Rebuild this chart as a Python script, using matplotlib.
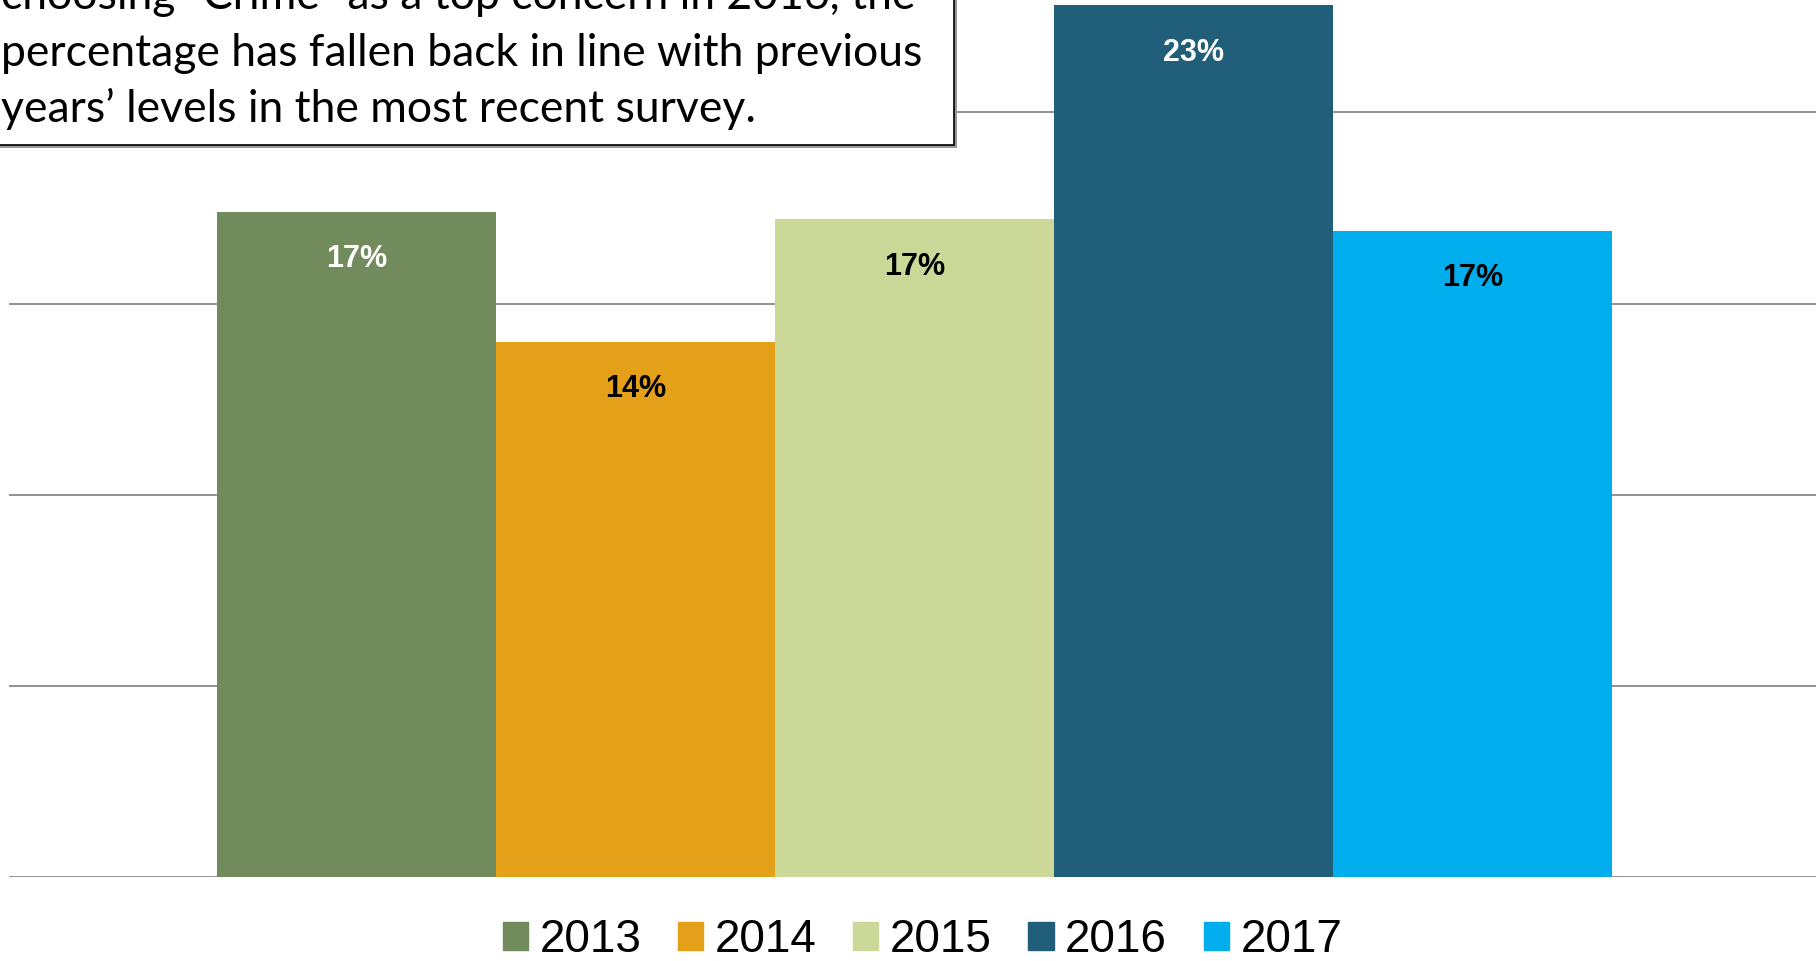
"""Crime as a top concern, 2013-2017 bar chart."""

import matplotlib
matplotlib.use("Agg")
import matplotlib.pyplot as plt
from matplotlib.patches import Rectangle
import numpy as np

years = ["2013", "2014", "2015", "2016", "2017"]
values = [17.4, 14.0, 17.2, 22.8, 16.9]
labels = ["17%", "14%", "17%", "23%", "17%"]
colors = ["#718B5D", "#E4A018", "#CBD898", "#215E79", "#00AEEE"]
label_colors = ["white", "black", "black", "white", "black"]
grid_ticks = [0, 5, 10, 15, 20]

note_lines = [
    "choosing \u201cCrime\u201d as a top concern in 2016, the",
    "percentage has fallen back in line with previous",
    "years\u2019 levels in the most recent survey.",
]

W, H = 1816, 961
fig = plt.figure(figsize=(W / 100, H / 100), dpi=100)
ax = fig.add_axes([9 / W, 84 / H, 1 - 9 / W, 1 - 84 / H])

x = np.arange(len(years))
bars = ax.bar(x, values, width=1.0, color=colors, label=years, zorder=2)

ax.set_xlim(-1.2475, 5.231)
ax.set_ylim(0, 22.94)
ax.set_yticks(grid_ticks)
ax.yaxis.grid(True, color="#898989", linewidth=1.3, zorder=0)
ax.set_axisbelow(True)
ax.tick_params(left=False, bottom=False, labelleft=False, labelbottom=False)
for s in ax.spines.values():
    s.set_visible(False)

for b, lab, c in zip(bars, labels, label_colors):
    ax.annotate(lab, (b.get_x() + b.get_width() / 2, b.get_height()),
                xytext=(0, -34), textcoords="offset points",
                ha="center", va="center", color=c, fontsize=22,
                fontweight="bold", family=["Liberation Sans", "DejaVu Sans"])

handles = [Rectangle((0, 0), 1, 1, color=c) for c in colors]
ax.legend(handles, years, loc="center", bbox_to_anchor=(0.508, 21 / H),
          bbox_transform=fig.transFigure, ncol=5, frameon=False,
          handlelength=0.55, handleheight=0.55, handletextpad=0.25,
          columnspacing=0.8,
          prop={"family": ["Liberation Sans", "DejaVu Sans"], "size": 33})

# note box in the top left, partly cut off by the figure edge
box_r, box_b = 954, 145
fig.patches.append(Rectangle((-20 / W, 1 - (box_b + 3) / H), (box_r + 23) / W,
                             (box_b + 40) / H, transform=fig.transFigure,
                             facecolor="#9a9a9a", edgecolor="none", zorder=4))
fig.patches.append(Rectangle((-20 / W, 1 - box_b / H), (box_r + 20) / W,
                             (box_b + 40) / H, transform=fig.transFigure,
                             facecolor="white", edgecolor="black", linewidth=1.2,
                             zorder=5))
for i, line in enumerate(note_lines):
    fig.text(1 / W, 1 - (9 + 56.6 * i) / H, line, ha="left", va="baseline",
             fontsize=32, family=["Lato", "DejaVu Sans"], zorder=6)

fig.savefig("out.png", dpi=100)
